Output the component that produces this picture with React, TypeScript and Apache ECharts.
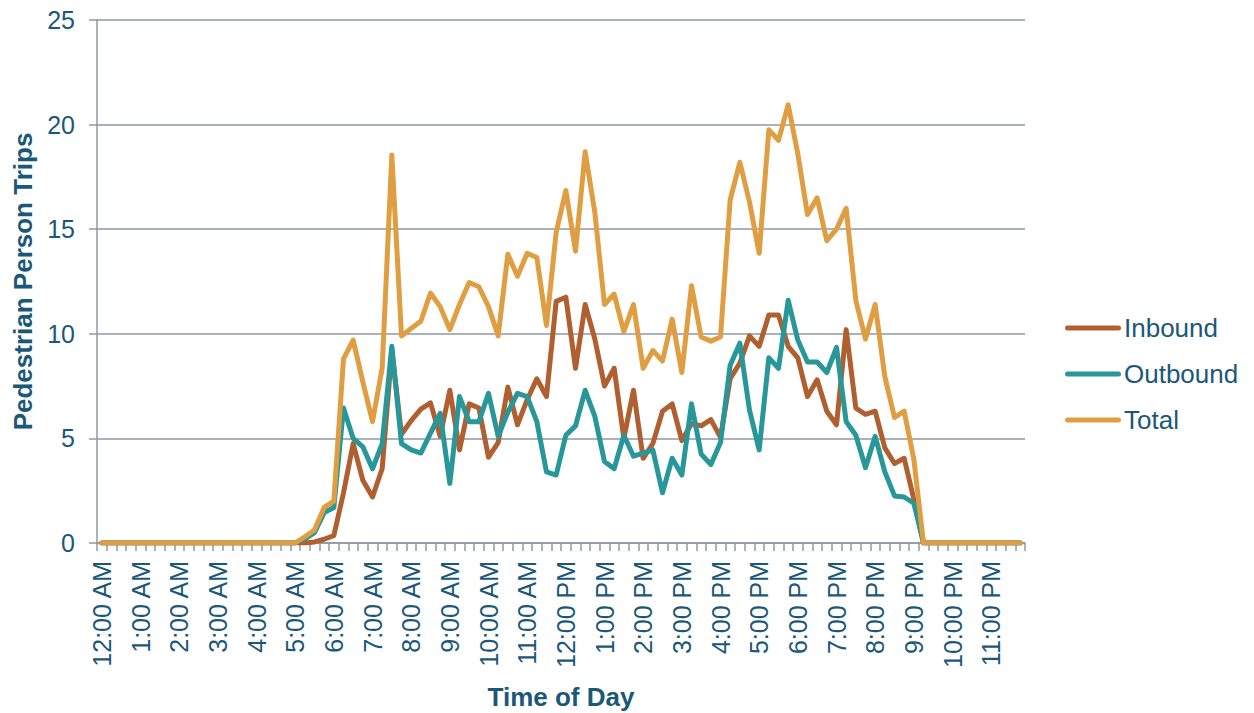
import React, { useEffect, useRef } from "react";
import * as echarts from "echarts";

const hourLabels = [
  "12:00 AM", "1:00 AM", "2:00 AM", "3:00 AM", "4:00 AM", "5:00 AM",
  "6:00 AM", "7:00 AM", "8:00 AM", "9:00 AM", "10:00 AM", "11:00 AM",
  "12:00 PM", "1:00 PM", "2:00 PM", "3:00 PM", "4:00 PM", "5:00 PM",
  "6:00 PM", "7:00 PM", "8:00 PM", "9:00 PM", "10:00 PM", "11:00 PM",
];
const quarterMinutes = ["00", "15", "30", "45"];

const inbound = [
  0, 0, 0, 0, 0, 0, 0, 0, 0, 0, 0, 0, 0, 0, 0, 0, 0, 0, 0, 0, 0, 0,
  0.05, 0.18, 0.35, 2.4, 4.75, 3.0, 2.2, 3.55, 9.2, 5.2, 5.85, 6.4, 6.7, 5.1,
  7.3, 4.45, 6.65, 6.45, 4.1, 4.8, 7.45, 5.65, 6.85, 7.85, 7.0, 11.55, 11.75, 8.35,
  11.4, 9.75, 7.5, 8.35, 5.0, 7.3, 4.05, 4.75, 6.3, 6.65, 4.9, 5.7, 5.6, 5.9,
  5.05, 7.85, 8.6, 9.9, 9.4, 10.9, 10.9, 9.4, 8.85, 7.0, 7.8, 6.3, 5.65, 10.2,
  6.45, 6.15, 6.3, 4.55, 3.8, 4.05, 2.1,
  0, 0, 0, 0, 0, 0, 0, 0, 0, 0, 0,
];

const outbound = [
  0, 0, 0, 0, 0, 0, 0, 0, 0, 0, 0, 0, 0, 0, 0, 0, 0, 0, 0, 0, 0,
  0.2, 0.5, 1.45, 1.7, 6.45, 5.0, 4.6, 3.55, 4.75, 9.4, 4.75, 4.45, 4.3, 5.25,
  6.2, 2.85, 7.0, 5.8, 5.8, 7.15, 5.1, 6.25, 7.15, 7.0, 5.8, 3.4, 3.25, 5.15,
  5.6, 7.3, 6.05, 3.9, 3.55, 5.15, 4.15, 4.3, 4.45, 2.4, 4.05, 3.25, 6.65, 4.25,
  3.75, 4.8, 8.5, 9.55, 6.35, 4.45, 8.85, 8.35, 11.6, 9.7, 8.65, 8.65, 8.15, 9.35,
  5.8, 5.15, 3.6, 5.1, 3.4, 2.25, 2.2, 1.9,
  0, 0, 0, 0, 0, 0, 0, 0, 0, 0, 0,
];

const total = [
  0, 0, 0, 0, 0, 0, 0, 0, 0, 0, 0, 0, 0, 0, 0, 0, 0, 0, 0, 0, 0,
  0.3, 0.62, 1.7, 2.0, 8.8, 9.7, 7.7, 5.8, 8.35, 18.55, 9.9, 10.25, 10.6, 11.95,
  11.3, 10.2, 11.4, 12.45, 12.25, 11.3, 9.9, 13.8, 12.75, 13.85, 13.65, 10.4, 14.85, 16.85,
  13.95, 18.7, 15.8, 11.4, 11.9, 10.1, 11.4, 8.35, 9.2, 8.7, 10.7, 8.15, 12.3, 9.85,
  9.65, 9.85, 16.4, 18.2, 16.3, 13.85, 19.75, 19.25, 20.95, 18.6, 15.7, 16.5, 14.45, 15.0,
  16.0, 11.6, 9.75, 11.4, 7.95, 6.0, 6.3, 4.0,
  0, 0, 0, 0, 0, 0, 0, 0, 0, 0, 0,
];

const yTicks = { min: 0, max: 25, interval: 5 };

const seriesNames = ["Inbound", "Outbound", "Total"];
const seriesColors = ["#B05F31", "#27979A", "#DF9E42"];

const categories: string[] = [];
hourLabels.forEach((h) => {
  const [hm, ampm] = h.split(" ");
  const hr = hm.split(":")[0];
  quarterMinutes.forEach((m) => categories.push(`${hr}:${m} ${ampm}`));
});

const TEXT = "#1B5878";
const GRID = "#8E99A6";
const FONT = "'Liberation Sans', Arial, sans-serif";
const LEGEND_ICON =
  "path://M2.5,0 L53.5,0 A2.5,2.5 0 0 1 53.5,5 L2.5,5 A2.5,2.5 0 0 1 2.5,0 Z";

export default function App() {
  const ref = useRef<HTMLDivElement>(null);
  useEffect(() => {
    if (!ref.current) return;
    const chart = echarts.init(ref.current, undefined, { renderer: "svg" });
    const dataSets = [inbound, outbound, total];
    chart.setOption({
      animation: false,
      textStyle: { fontFamily: FONT },
      grid: {
        left: 97,
        right: 229,
        top: 20,
        bottom: 170,
        containLabel: false,
        outerBoundsMode: "none",
      },
      legend: {
        orient: "vertical",
        left: 1065,
        top: 315,
        padding: 0,
        itemWidth: 56,
        itemHeight: 5,
        itemGap: 20,
        icon: LEGEND_ICON,
        textStyle: { fontSize: 26, color: TEXT, fontFamily: FONT, padding: [0, 0, 0, -2] },
        data: seriesNames,
      },
      xAxis: {
        type: "category",
        data: categories,
        boundaryGap: true,
        name: "Time of Day",
        nameLocation: "middle",
        nameGap: 141,
        nameTextStyle: { fontSize: 26, fontWeight: "bold", color: TEXT, fontFamily: FONT },
        axisLine: { show: true, lineStyle: { color: GRID, width: 1.5 } },
        axisTick: { show: true, interval: 0, length: 8, lineStyle: { color: GRID, width: 1.5 } },
        axisLabel: {
          interval: 3,
          rotate: 90,
          margin: 18,
          fontSize: 25,
          color: TEXT,
          fontFamily: FONT,
        },
        splitLine: { show: false },
      },
      yAxis: {
        type: "value",
        min: yTicks.min,
        max: yTicks.max,
        interval: yTicks.interval,
        name: "Pedestrian Person Trips",
        nameLocation: "middle",
        nameGap: 59,
        nameTextStyle: { fontSize: 26, fontWeight: "bold", color: TEXT, fontFamily: FONT },
        axisLine: { show: true, lineStyle: { color: GRID, width: 1.5 } },
        axisTick: { show: true, length: 8, lineStyle: { color: GRID, width: 1.5 } },
        axisLabel: { margin: 22, fontSize: 25, color: TEXT, fontFamily: FONT },
        splitLine: { show: true, lineStyle: { color: GRID, width: 1.5 } },
      },
      series: seriesNames.map((name, k) => ({
        name,
        type: "line",
        data: dataSets[k],
        showSymbol: false,
        symbol: "none",
        color: seriesColors[k],
        lineStyle: { width: 5, color: seriesColors[k], cap: "round", join: "round" },
        z: 2 + k,
      })),
    });
    return () => chart.dispose();
  }, []);
  return <div ref={ref} style={{ width: 1254, height: 713, position: "absolute", left: 0, top: 0 }} />;
}
